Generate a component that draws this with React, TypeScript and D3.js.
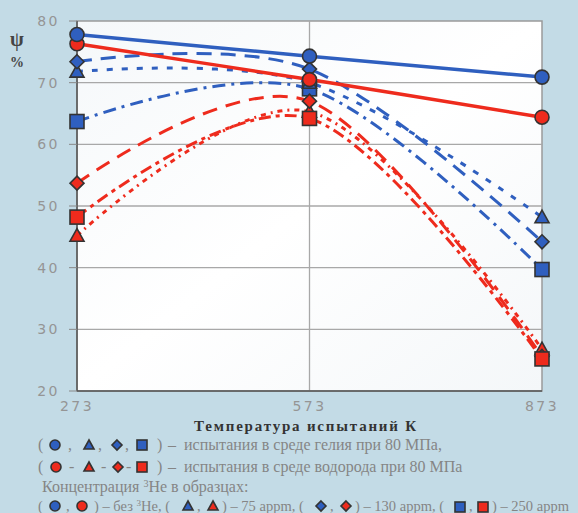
import React from 'react'
import * as d3 from 'd3'

const temps = [273, 573, 873]
const yTicks = [20, 30, 40, 50, 60, 70, 80]

// He medium (blue)
const heNone = [77.8, 74.3, 70.9]
const he75 = [71.8, 70.0, 48.2]
const he130 = [73.4, 72.2, 44.2]
const he250 = [63.7, 69.0, 39.7]
// H2 medium (red)
const hNone = [76.3, 70.5, 64.4]
const h75 = [45.2, 65.3, 26.8]
const h130 = [53.7, 67.0, 25.6]
const h250 = [48.2, 64.2, 25.2]

const BLUE = '#2f5fbf'
const RED = '#ee2b1d'

const series = [
  { vals: he250, color: BLUE, shape: 'square', dash: '13,6,3,6' },
  { vals: he75, color: BLUE, shape: 'triangle', dash: '6,9' },
  { vals: he130, color: BLUE, shape: 'diamond', dash: '15,9' },
  { vals: h75, color: RED, shape: 'triangle', dash: '5,5,2,5' },
  { vals: h130, color: RED, shape: 'diamond', dash: '15,9' },
  { vals: h250, color: RED, shape: 'square', dash: '12,5,4,5' },
  { vals: hNone, color: RED, shape: 'circle', dash: null },
  { vals: heNone, color: BLUE, shape: 'circle', dash: null },
]

const plot = { left: 77, right: 542, top: 21, bottom: 391 }

function Marker({ shape, x, y, color, s = 7 }: any) {
  const stroke = '#333'
  const sw = 1.6
  if (shape === 'circle') return <circle cx={x} cy={y} r={s} fill={color} stroke={stroke} strokeWidth={sw} />
  if (shape === 'square') return <rect x={x - s} y={y - s} width={2 * s} height={2 * s} fill={color} stroke={stroke} strokeWidth={sw} />
  if (shape === 'triangle') {
    const p = `${x},${y - s} ${x + s},${y + s * 0.8} ${x - s},${y + s * 0.8}`
    return <polygon points={p} fill={color} stroke={stroke} strokeWidth={sw} />
  }
  const p = `${x},${y - s} ${x + s},${y} ${x},${y + s} ${x - s},${y}`
  return <polygon points={p} fill={color} stroke={stroke} strokeWidth={sw} />
}

export default function App() {
  const x = d3.scaleLinear().domain([273, 873]).range([plot.left, plot.right])
  const y = d3.scaleLinear().domain([20, 80]).range([plot.bottom, plot.top])
  const line = d3.line<number>()
    .x((d, i) => x(temps[i]))
    .y(d => y(d))
    .curve(d3.curveCardinal.tension(0))

  const tickStyle: any = { fill: '#959595', fontFamily: 'DejaVu Sans', fontSize: 14, letterSpacing: 2.5 }
  const legStyle: any = { fill: '#858585', fontFamily: "'Liberation Serif', serif", fontSize: 16 }
  const legStyle4: any = { ...legStyle, fontSize: 14.5 }

  return (
    <svg width={578} height={513} style={{ position: 'absolute', left: 0, top: 0 }}>
      <defs>
        <linearGradient id="pbg" x1="0" y1="0" x2="1" y2="1">
          <stop offset="0" stopColor="#f5f8fa" />
          <stop offset="0.5" stopColor="#ffffff" />
          <stop offset="1" stopColor="#f4f7f9" />
        </linearGradient>
      </defs>
      <rect width={578} height={513} fill="#c3dbe6" />
      <rect x={plot.left} y={plot.top} width={plot.right - plot.left} height={plot.bottom - plot.top}
        fill="url(#pbg)" stroke="#9a9a9a" strokeWidth={1.5} />

      {yTicks.slice(1, -1).map(t => (
        <line key={t} x1={plot.left} x2={plot.right} y1={y(t)} y2={y(t)} stroke="#a8a8a8" strokeWidth={1.3} />
      ))}
      <line x1={x(573)} x2={x(573)} y1={plot.top} y2={plot.bottom} stroke="#a8a8a8" strokeWidth={1.3} />
      <line x1={plot.left} x2={plot.left} y1={plot.top} y2={plot.bottom} stroke="#555" strokeWidth={1.5} />
      <line x1={plot.left} x2={plot.right} y1={plot.bottom} y2={plot.bottom} stroke="#555" strokeWidth={1.5} />
      {yTicks.map(t => (
        <g key={'yt' + t}>
          <line x1={plot.left - 8} x2={plot.left} y1={y(t)} y2={y(t)} stroke="#888" strokeWidth={1} />
          <text x={60} y={y(t) + 5} textAnchor="end" style={tickStyle}>{t}</text>
        </g>
      ))}
      {temps.map(t => (
        <text key={'xt' + t} x={x(t)} y={411} textAnchor="middle" style={tickStyle}>{t}</text>
      ))}

      {series.map((s, i) => (
        <path key={'l' + i} d={line(s.vals) as string} fill="none" stroke={s.color}
          strokeWidth={s.dash ? 3 : 3.5} strokeDasharray={s.dash || undefined} />
      ))}
      {series.map((s, i) => s.vals.map((v, j) => (
        <Marker key={'m' + i + '-' + j} shape={s.shape} x={x(temps[j])} y={y(v)} color={s.color} />
      )))}

      <text x={17} y={46} textAnchor="middle" style={{ fontFamily: 'Liberation Serif', fontSize: 20, fontWeight: 'bold', fill: '#444' }}>ψ</text>
      <text x={17} y={67} textAnchor="middle" style={{ fontFamily: 'Liberation Serif', fontSize: 14, fontWeight: 'bold', fill: '#444' }}>%</text>
      <text x={306} y={431} textAnchor="middle"
        style={{ fontFamily: 'Liberation Serif', fontSize: 15, fontWeight: 'bold', fill: '#333', letterSpacing: 1.8 }}>
        Температура испытаний  К
      </text>

      {/* legend row 1 */}
      <text x={38} y={450} style={legStyle}>(</text>
      <Marker shape="circle" x={55} y={445} color={BLUE} s={5} />
      <text x={68} y={450} style={legStyle}>,</text>
      <Marker shape="triangle" x={89} y={445} color={BLUE} s={5} />
      <text x={98} y={450} style={legStyle}>,</text>
      <Marker shape="diamond" x={117} y={445} color={BLUE} s={5} />
      <text x={125} y={450} style={legStyle}>,</text>
      <Marker shape="square" x={142} y={445} color={BLUE} s={5} />
      <text x={157} y={450} style={legStyle}>)</text>
      <text x={168} y={450} style={legStyle}>–</text>
      <text x={184} y={450} style={legStyle}>испытания в среде гелия при 80 МПа,</text>

      {/* legend row 2 */}
      <text x={38} y={472} style={legStyle}>(</text>
      <Marker shape="circle" x={56} y={467} color={RED} s={5} />
      <text x={69} y={472} style={legStyle}>-</text>
      <Marker shape="triangle" x={89} y={467} color={RED} s={5} />
      <text x={101} y={472} style={legStyle}>-</text>
      <Marker shape="diamond" x={118} y={467} color={RED} s={5} />
      <text x={126} y={472} style={legStyle}>-</text>
      <Marker shape="square" x={142} y={467} color={RED} s={5} />
      <text x={157} y={472} style={legStyle}>)</text>
      <text x={168} y={472} style={legStyle}>–</text>
      <text x={184} y={472} style={legStyle}>испытания в среде водорода при 80 МПа</text>

      <text x={42} y={492} style={legStyle}>Концентрация <tspan dy={-5} fontSize={10}>3</tspan><tspan dy={5}>Не в образцах:</tspan></text>

      {/* legend row 4 */}
      <text x={38} y={511} style={legStyle4}>(</text>
      <Marker shape="circle" x={55} y={506} color={BLUE} s={5} />
      <text x={66} y={511} style={legStyle4}>,</text>
      <Marker shape="circle" x={82} y={506} color={RED} s={5} />
      <text x={94} y={511} style={legStyle4}>) – без <tspan dy={-5} fontSize={9}>3</tspan><tspan dy={5}>Не, (</tspan></text>
      <Marker shape="triangle" x={188} y={506} color={BLUE} s={5} />
      <text x={197} y={511} style={legStyle4}>,</text>
      <Marker shape="triangle" x={213} y={506} color={RED} s={5} />
      <text x={222} y={511} style={legStyle4}>) – 75 appm, (</text>
      <Marker shape="diamond" x={321} y={506} color={BLUE} s={5} />
      <text x={330} y={511} style={legStyle4}>,</text>
      <Marker shape="diamond" x={346} y={506} color={RED} s={5} />
      <text x={355} y={511} style={legStyle4}>) – 130 appm, (</text>
      <Marker shape="square" x={460} y={507} color={BLUE} s={5} />
      <text x={469} y={511} style={legStyle4}>,</text>
      <Marker shape="square" x={483} y={507} color={RED} s={5} />
      <text x={492} y={511} style={legStyle4}>) – 250 appm</text>
    </svg>
  )
}
